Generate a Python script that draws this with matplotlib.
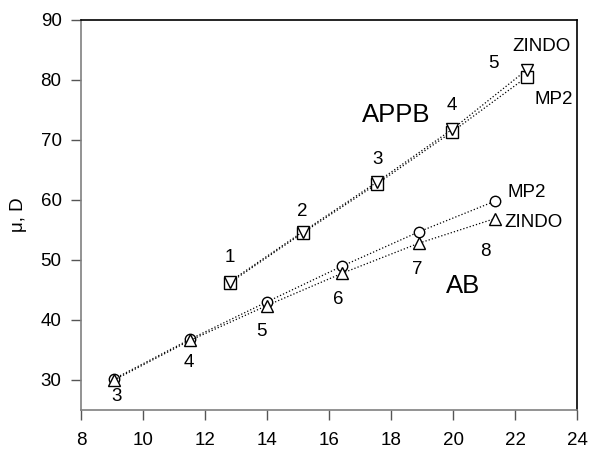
import numpy as np
import matplotlib
matplotlib.use('Agg')
import matplotlib.pyplot as plt

plt.rcParams['font.family'] = ['Liberation Sans', 'DejaVu Sans']

# APPB series (points 1-5)
appb_x = [12.8, 15.15, 17.55, 19.98, 22.38]
appb_mp2 = [46.2, 54.5, 62.7, 71.4, 80.5]
appb_zindo = [46.4, 54.7, 63.0, 71.8, 81.7]
appb_labels = ['1', '2', '3', '4', '5']

# AB series (points 3-8)
ab_x = [9.07, 11.52, 13.99, 16.43, 18.9, 21.35]
ab_mp2 = [30.2, 36.8, 43.0, 49.0, 54.7, 59.8]
ab_zindo = [30.0, 36.6, 42.4, 47.8, 52.8, 56.9]
ab_labels = ['3', '4', '5', '6', '7', '8']

fig = plt.figure(figsize=(5.89, 4.51), dpi=100)
ax = fig.add_axes([81/589, 41/451, 496/589, 390/451])

dot = dict(color='black', linestyle=':', linewidth=0.9)
mk = dict(markerfacecolor='white', markeredgecolor='black', markeredgewidth=1.0)

ax.plot(appb_x, appb_mp2, marker='s', markersize=8, **dot, **mk)
ax.plot(appb_x, appb_zindo, marker='v', markersize=8, **dot, **mk)
ax.plot(ab_x, ab_mp2, marker='o', markersize=7.5, **dot, **mk)
ax.plot(ab_x, ab_zindo, marker='^', markersize=8.5, **dot, **mk)

fs = 13.5
# point number labels
appb_lab_pos = [(12.8, 50.5), (15.15, 58.1), (17.57, 66.7), (19.96, 75.7), (21.32, 82.8)]
for t, (x, y) in zip(appb_labels, appb_lab_pos):
    ax.text(x, y, t, ha='center', va='center', fontsize=fs)
ab_lab_pos = [(9.15, 27.3), (11.48, 32.9), (13.83, 38.0), (16.3, 43.5), (18.85, 48.5), (21.03, 51.5)]
for t, (x, y) in zip(ab_labels, ab_lab_pos):
    ax.text(x, y, t, ha='center', va='center', fontsize=fs)

ax.text(22.86, 85.6, 'ZINDO', ha='center', va='center', fontsize=fs)
ax.text(23.24, 76.7, 'MP2', ha='center', va='center', fontsize=fs)
ax.text(18.18, 74.2, 'APPB', ha='center', va='center', fontsize=18.5)
ax.text(21.75, 61.2, 'MP2', ha='left', va='center', fontsize=fs)
ax.text(21.65, 56.2, 'ZINDO', ha='left', va='center', fontsize=fs)
ax.text(20.33, 45.7, 'AB', ha='center', va='center', fontsize=18.5)

ax.set_xlim(8, 24)
ax.set_ylim(25, 90)
ax.set_xticks(np.arange(8, 25, 2))
ax.set_yticks(np.arange(30, 91, 10))
ax.tick_params(labelsize=fs, direction='out', length=7, width=1, color='#555555', pad=7)
ax.tick_params(axis='x', pad=9)
ax.set_ylabel('μ, D', fontsize=fs, labelpad=10)

for s in ['left', 'bottom']:
    ax.spines[s].set_color('#808080')
    ax.spines[s].set_linewidth(1.2)
for s in ['top', 'right']:
    ax.spines[s].set_color('black')
    ax.spines[s].set_linewidth(1.2)

fig.savefig('out.png', dpi=100)
